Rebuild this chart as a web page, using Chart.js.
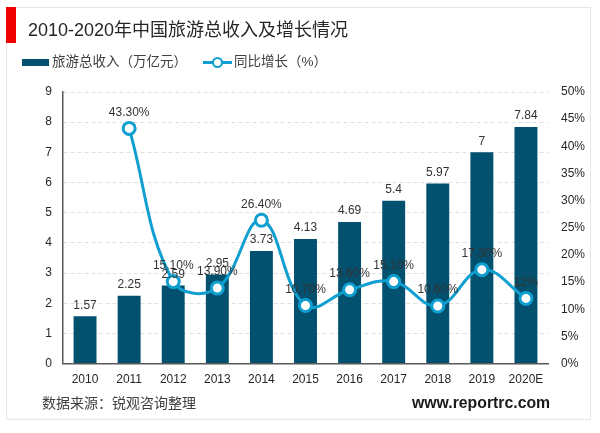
<!DOCTYPE html>
<html>
<head>
<meta charset="utf-8">
<script src="https://cdn.jsdelivr.net/npm/chart.js@4"></script>
<style>
html, body { margin: 0; padding: 0; background: #fff; }
body { width: 600px; height: 433px; position: relative; overflow: hidden; font-family: "Liberation Sans", "Noto Sans CJK SC", sans-serif; color: #262626; }
#frame { position: absolute; left: 6px; top: 7px; width: 585px; height: 413px; border: 1px solid #e6e6e6; box-sizing: border-box; }
#redbar { position: absolute; left: 6px; top: 7px; width: 10px; height: 36px; background: #f00000; }
#title { position: absolute; left: 28px; top: 18px; font-size: 18px; line-height: 24px; white-space: nowrap; }
.legend { position: absolute; top: 53px; font-size: 13.5px; line-height: 18px; color: #404040; white-space: nowrap; }
#swatch { position: absolute; left: 22px; top: 59px; width: 27px; height: 7px; background: #03506f; }
#lineKey { position: absolute; left: 203px; top: 61px; width: 29px; height: 3px; background: #0f9fd0; }
#lineKey i { position: absolute; left: 9px; top: -4px; width: 7px; height: 7px; border: 2px solid #0f9fd0; border-radius: 50%; background: #fff; }
#source { position: absolute; left: 42px; top: 394px; font-size: 14px; line-height: 18px; color: #404040; }
#site { position: absolute; left: 412px; top: 394px; font-size: 15.8px; line-height: 18px; font-weight: bold; color: #1a1a1a; }
#wrap { position: absolute; left: 0; top: 0; width: 600px; height: 433px; }
canvas { display: block; }
</style>
</head>
<body>
<div id="frame"></div>
<div id="wrap"><canvas id="revenueChart" width="600" height="433"></canvas></div>
<div id="redbar"></div>
<div id="title">2010-2020年中国旅游总收入及增长情况</div>
<div id="swatch"></div>
<div class="legend" style="left:52px">旅游总收入（万亿元）</div>
<div id="lineKey"><i></i></div>
<div class="legend" style="left:234px">同比增长（%）</div>
<div id="source">数据来源：锐观咨询整理</div>
<div id="site">www.reportrc.com</div>
<script>
const years = ['2010', '2011', '2012', '2013', '2014', '2015', '2016', '2017', '2018', '2019', '2020E'];
const revenue = [1.57, 2.25, 2.59, 2.95, 3.73, 4.13, 4.69, 5.4, 5.97, 7, 7.84];
const growth = [null, 43.3, 15.1, 13.9, 26.4, 10.7, 13.6, 15.1, 10.6, 17.3, 12];
const revenueLabels = ['1.57', '2.25', '2.59', '2.95', '3.73', '4.13', '4.69', '5.4', '5.97', '7', '7.84'];
const growthLabels = ['', '43.30%', '15.10%', '13.90%', '26.40%', '10.70%', '13.60%', '15.10%', '10.60%', '17.30%', '12%'];

// value labels above bars and points
const valueLabels = {
    id: 'valueLabels',
    afterDatasetsDraw(chart) {
        const ctx = chart.ctx;
        ctx.save();
        ctx.font = '12px "Liberation Sans"';
        ctx.fillStyle = '#333';
        ctx.textAlign = 'center';
        ctx.textBaseline = 'bottom';
        chart.getDatasetMeta(1).data.forEach((bar, i) => {
            ctx.fillText(revenueLabels[i], bar.x, bar.y - 5);
        });
        chart.getDatasetMeta(0).data.forEach((pt, i) => {
            if (growthLabels[i]) ctx.fillText(growthLabels[i], pt.x, pt.y - 10);
        });
        ctx.restore();
    }
};

const chartCtx = document.getElementById('revenueChart').getContext('2d');
new Chart(chartCtx, {
    data: {
        labels: years,
        datasets: [{
            type: 'line',
            label: '同比增长（%）',
            data: growth,
            yAxisID: 'y1',
            borderColor: '#0f9fd0',
            borderWidth: 3,
            pointBackgroundColor: '#fff',
            pointBorderColor: '#0f9fd0',
            pointBorderWidth: 3,
            pointRadius: 6,
            tension: 0.4,
            order: 0
        }, {
            type: 'bar',
            label: '旅游总收入（万亿元）',
            data: revenue,
            yAxisID: 'y',
            backgroundColor: '#03506f',
            categoryPercentage: 1,
            barPercentage: 0.52,
            order: 1
        }]
    },
    options: {
        responsive: false,
        animation: false,
        layout: { padding: { left: 23, right: 2, top: 92, bottom: 45 } },
        plugins: { legend: { display: false }, title: { display: false }, tooltip: { enabled: false } },
        scales: {
            x: {
                grid: { display: false },
                border: { color: '#595959', width: 1.5 },
                ticks: { color: '#262626', font: { size: 12, family: '"Liberation Sans"' }, maxRotation: 0, padding: 1 }
            },
            y: {
                position: 'left',
                min: 0,
                max: 9,
                afterFit(scale) { scale.width = 40; },
                grid: { color: '#e0e0e0', drawTicks: false },
                border: { color: '#595959', width: 1.5, dash: [4, 3] },
                ticks: { stepSize: 1, color: '#262626', font: { size: 12, family: '"Liberation Sans"' }, padding: 11 }
            },
            y1: {
                position: 'right',
                min: 0,
                max: 50,
                afterFit(scale) { scale.width = 50; },
                grid: { display: false },
                border: { display: false },
                ticks: { stepSize: 5, color: '#262626', font: { size: 12, family: '"Liberation Sans"' }, padding: 5, callback: v => v + '%' }
            }
        }
    },
    plugins: [valueLabels]
});
</script>
</body>
</html>
